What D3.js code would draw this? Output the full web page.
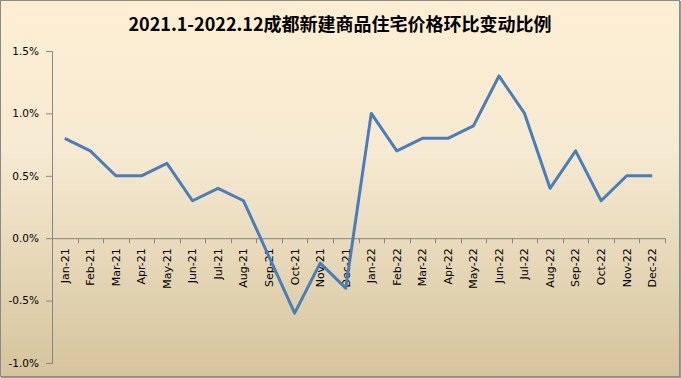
<!DOCTYPE html>
<html>
<head>
<meta charset="utf-8">
<script src="https://cdn.jsdelivr.net/npm/d3@7"></script>
<style>
  body { margin: 0; background: #fff; }
  svg { display: block; }
</style>
</head>
<body>
<svg width="681" height="378"></svg>
<script>
// Data here
const months = ["Jan-21", "Feb-21", "Mar-21", "Apr-21", "May-21", "Jun-21", "Jul-21", "Aug-21",
    "Sep-21", "Oct-21", "Nov-21", "Dec-21", "Jan-22", "Feb-22", "Mar-22", "Apr-22", "May-22",
    "Jun-22", "Jul-22", "Aug-22", "Sep-22", "Oct-22", "Nov-22", "Dec-22"];
const changes = [0.8, 0.7, 0.5, 0.5, 0.6, 0.3, 0.4, 0.3, -0.15, -0.6, -0.2, -0.4,
    1.0, 0.7, 0.8, 0.8, 0.9, 1.3, 1.0, 0.4, 0.7, 0.3, 0.5, 0.5];
const yTicks = [-1.0, -0.5, 0.0, 0.5, 1.0, 1.5];
const title = "2021.1-2022.12成都新建商品住宅价格环比变动比例";

const svg = d3.select("svg");
const width = +svg.attr("width");
const height = +svg.attr("height");

// Background gradient
const grad = svg.append("defs").append("linearGradient")
    .attr("id", "bg")
    .attr("x1", 0).attr("y1", 0).attr("x2", 0).attr("y2", 1);
grad.append("stop").attr("offset", "0%").attr("stop-color", "#feefd3");
grad.append("stop").attr("offset", "40%").attr("stop-color", "#f6ead2");
grad.append("stop").attr("offset", "100%").attr("stop-color", "#d5c49c");

svg.append("rect")
    .attr("x", 0.5).attr("y", 0.5)
    .attr("width", width - 2).attr("height", height - 2)
    .attr("fill", "url(#bg)")
    .attr("stroke", "#8a8a8a");
// shadow-ish right/bottom edge
svg.append("line").attr("x1", width - 0.5).attr("x2", width - 0.5).attr("y1", 1).attr("y2", height)
    .attr("stroke", "#9a9a9a");
svg.append("line").attr("x1", 1).attr("x2", width).attr("y1", height - 0.5).attr("y2", height - 0.5)
    .attr("stroke", "#9a9a9a");

// Title
svg.append("text")
    .attr("x", 340)
    .attr("y", 31)
    .attr("text-anchor", "middle")
    .attr("font-family", "'Noto Sans CJK SC', 'DejaVu Sans', sans-serif")
    .attr("font-weight", "bold")
    .attr("font-size", 18)
    .attr("fill", "#000")
    .text(title);

// Scales
const x = d3.scaleBand()
    .domain(months)
    .range([52, 665]);

const y = d3.scaleLinear()
    .domain([-1.0, 1.5])
    .range([363, 51]);

// Y axis
const yAxis = d3.axisLeft(y)
    .tickValues(yTicks)
    .tickSize(6)
    .tickFormat(d => d.toFixed(1) + "%");

const gy = svg.append("g")
    .attr("transform", "translate(52,0)")
    .call(yAxis);
gy.select(".domain").attr("stroke", "#868686");
gy.selectAll(".tick line").attr("stroke", "#868686");
gy.selectAll(".tick text")
    .attr("x", -13)
    .attr("font-family", "'DejaVu Sans', sans-serif")
    .attr("font-size", 10.5)
    .attr("fill", "#000");

// X axis at zero
const xAxis = d3.axisBottom(x).tickSize(0).tickSizeOuter(0);
const gx = svg.append("g")
    .attr("transform", `translate(0,${y(0)})`)
    .call(xAxis);
gx.select(".domain").attr("stroke", "#868686");
gx.selectAll(".tick line").remove();
gx.selectAll(".tick text")
    .attr("transform", "rotate(-90)")
    .attr("text-anchor", "end")
    .attr("x", -10)
    .attr("y", 0)
    .attr("dy", "0.35em")
    .attr("font-family", "'DejaVu Sans', sans-serif")
    .attr("font-size", 11)
    .attr("fill", "#000");

// tick marks on category boundaries
gx.selectAll(".bound")
    .data(months)
    .enter()
    .append("line")
    .attr("x1", d => Math.round(x(d)) + 0.5)
    .attr("x2", d => Math.round(x(d)) + 0.5)
    .attr("y1", 0)
    .attr("y2", 5)
    .attr("stroke", "#868686");
gx.append("line")
    .attr("x1", 665.5).attr("x2", 665.5)
    .attr("y1", 0).attr("y2", 5)
    .attr("stroke", "#868686");

// Line
const line = d3.line()
    .x((d, i) => x(months[i]) + x.bandwidth() / 2)
    .y(d => y(d));

svg.append("path")
    .datum(changes)
    .attr("d", line)
    .attr("fill", "none")
    .attr("stroke", "#4a7ebb")
    .attr("stroke-width", 3)
    .attr("stroke-linejoin", "round");
</script>
</body>
</html>
